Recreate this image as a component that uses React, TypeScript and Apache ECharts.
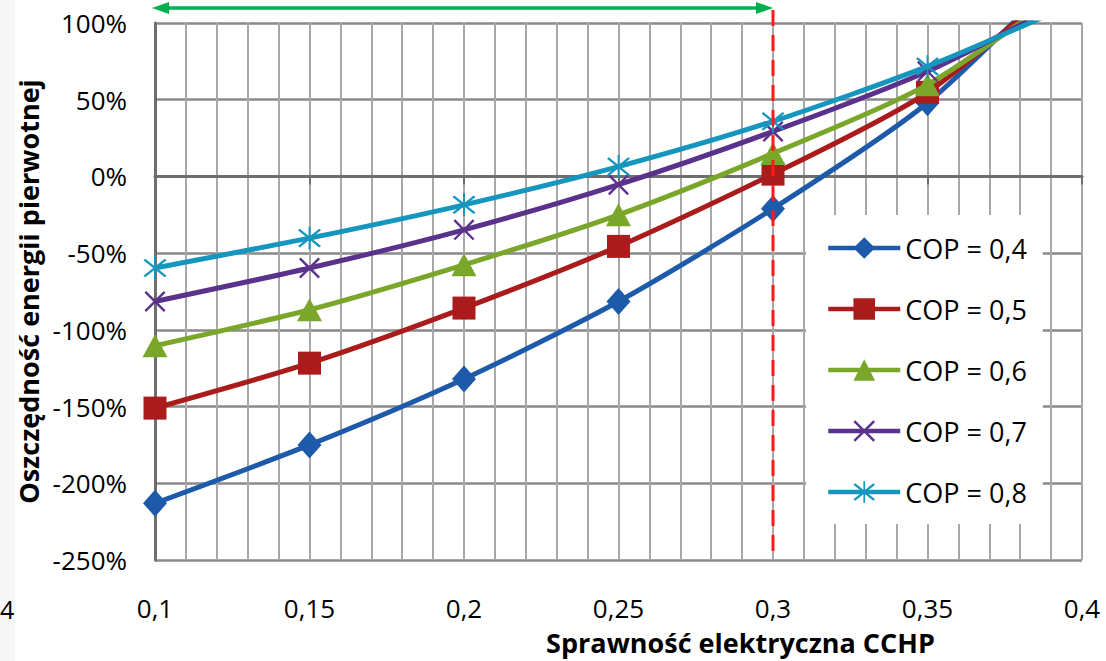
import React, { useEffect, useRef } from "react";
import * as echarts from "echarts";

// ---- data ----
const xValues = [0.1, 0.15, 0.2, 0.25, 0.3, 0.35, 0.4];
const cop04 = [-2.13, -1.75, -1.32, -0.815, -0.21, 0.48, 1.45];
const cop05 = [-1.51, -1.217, -0.858, -0.456, 0.015, 0.548, 1.38];
const cop06 = [-1.104, -0.869, -0.576, -0.25, 0.15, 0.598, 1.29];
const cop07 = [-0.815, -0.597, -0.348, -0.054, 0.293, 0.685, 1.2];
const cop08 = [-0.597, -0.402, -0.185, 0.064, 0.359, 0.717, 1.15];
const seriesNames = ["COP = 0,4", "COP = 0,5", "COP = 0,6", "COP = 0,7", "COP = 0,8"];
const xTickLabels = ["0,1", "0,15", "0,2", "0,25", "0,3", "0,35", "0,4"];
const yTickLabels = ["-250%", "-200%", "-150%", "-100%", "-50%", "0%", "50%", "100%"];
const xMin = 0.1;
const xMax = 0.4;
const xStep = 0.05;
const yMin = -2.5;
const yMax = 1;
const yStep = 0.5;
const referenceX = 0.3; // dashed marker
const rangeStart = 0.1; // arrow start
const xTitle = "Sprawność elektryczna CCHP";
const yTitle = "Oszczędność energii pierwotnej";
const croppedText = "4";

// ---- styles ----
const seriesValues = [cop04, cop05, cop06, cop07, cop08];
const seriesColors = ["#1e5aaa", "#aa1c1c", "#7aa62a", "#5a328c", "#1596be"];
const crossPath = "path://M0 8 L8 0 L100 92 L92 100 Z M92 0 L100 8 L8 100 L0 92 Z";
const starPath =
  "path://M0 8 L8 0 L100 92 L92 100 Z M92 0 L100 8 L8 100 L0 92 Z M46 -12 L54 -12 L54 112 L46 112 Z";
const seriesSymbols = ["diamond", "rect", "triangle", crossPath, starPath];
const seriesSymbolSizes: any[] = [[24, 27], 23, [25, 23], 21, 23];

const FONT = "Open Sans";

export default function App() {
  const ref = useRef<HTMLDivElement>(null);

  useEffect(() => {
    if (!ref.current) return;
    const chart = echarts.init(ref.current, null, { renderer: "svg" });

    const series: any[] = seriesNames.map((name, si) => ({
      name,
      type: "line",
      data: xValues.map((x, i) => [x, seriesValues[si][i]]),
      smooth: 0.25,
      symbol: seriesSymbols[si],
      symbolSize: seriesSymbolSizes[si],
      showAllSymbol: true,
      clip: true,
      lineStyle: { color: seriesColors[si], width: 5 },
      itemStyle: { color: seriesColors[si] },
      emphasis: { disabled: true },
      z: 3 + si,
    }));

    const xLabel = (v: number) => xTickLabels[Math.round((v - xMin) / xStep)] ?? "";
    const yLabel = (v: number) => yTickLabels[Math.round((v - yMin) / yStep)] ?? "";

    chart.setOption({
      animation: false,
      backgroundColor: "#ffffff",
      textStyle: { fontFamily: FONT },
      grid: { left: 155, top: 23, right: 24, bottom: 101, containLabel: false },
      legend: {
        orient: "vertical",
        left: 806,
        top: 215,
        backgroundColor: "#ffffff",
        padding: [18, 16, 17, 20],
        itemWidth: 72,
        itemHeight: 27,
        itemGap: 31,
        lineStyle: { width: 4.5 },
        textStyle: { fontFamily: FONT, fontSize: 27, color: "#000", lineHeight: 30 },
        data: seriesNames,
        z: 10,
      },
      xAxis: [
        {
          type: "value",
          min: xMin,
          max: xMax,
          interval: xStep,
          position: "bottom",
          axisLine: { show: false, onZero: false },
          axisTick: { show: false },
          axisLabel: {
            formatter: xLabel,
            fontFamily: FONT,
            fontSize: 26,
            color: "#000",
            margin: 35,
          },
          splitLine: { show: true, lineStyle: { color: "#a8a8a8", width: 2 } },
          minorTick: { show: false, splitNumber: 5 },
          minorSplitLine: { show: true, lineStyle: { color: "#a8a8a8", width: 2 } },
          name: xTitle,
          nameLocation: "middle",
          nameGap: 69,
          nameTextStyle: {
            fontFamily: FONT,
            fontSize: 27,
            fontWeight: "bold",
            color: "#000",
            padding: [0, 0, 0, 244],
          },
        },
        {
          type: "value",
          min: xMin,
          max: xMax,
          interval: xStep,
          position: "top",
          axisLine: { show: true, onZero: true, lineStyle: { color: "#6e6e6e", width: 3 } },
          axisTick: { show: true, inside: true, length: 8, lineStyle: { color: "#6e6e6e", width: 2 } },
          axisLabel: { show: false },
          splitLine: { show: false },
        },
      ],
      yAxis: {
        type: "value",
        min: yMin,
        max: yMax,
        interval: yStep,
        axisLine: { show: true, onZero: false, lineStyle: { color: "#6e6e6e", width: 3 } },
        axisTick: { show: false },
        axisLabel: {
          formatter: yLabel,
          fontFamily: FONT,
          fontSize: 26,
          color: "#000",
          margin: 28,
        },
        splitLine: { show: true, lineStyle: { color: "#8a8a8a", width: 2.5 } },
        name: yTitle,
        nameLocation: "middle",
        nameRotate: 90,
        nameGap: 110,
        nameTextStyle: { fontFamily: FONT, fontSize: 27, fontWeight: "bold", color: "#000" },
      },
      series,
    });

    // annotations positioned through the chart's own scales
    const [xr, yTop] = chart.convertToPixel({ gridIndex: 0 }, [referenceX, yMax]) as number[];
    const [, yBottom] = chart.convertToPixel({ gridIndex: 0 }, [referenceX, yMin]) as number[];
    const [xs] = chart.convertToPixel({ gridIndex: 0 }, [rangeStart, yMax]) as number[];
    const ay = yTop - 15;

    chart.setOption({
      graphic: [
        {
          type: "rect",
          z: -10,
          silent: true,
          shape: { x: 0, y: 0, width: 15, height: 661 },
          style: { fill: "#f7f7f7" },
        },
        {
          type: "text",
          z: 50,
          silent: true,
          x: 0,
          y: 596,
          style: { text: croppedText, fontFamily: FONT, fontSize: 25, fill: "#000" },
        },
        {
          type: "line",
          z: 50,
          silent: true,
          shape: { x1: xr, y1: yTop - 13, x2: xr, y2: yBottom },
          style: { stroke: "#ff1a1a", lineWidth: 3, lineDash: [16, 9] },
        },
        {
          type: "line",
          z: 50,
          silent: true,
          shape: { x1: xs + 8, y1: ay, x2: xr - 12, y2: ay },
          style: { stroke: "#00b050", lineWidth: 3.5 },
        },
        {
          type: "polygon",
          z: 50,
          silent: true,
          shape: { points: [[xs - 3, ay], [xs + 14, ay - 6], [xs + 14, ay + 6]] },
          style: { fill: "#00b050" },
        },
        {
          type: "polygon",
          z: 50,
          silent: true,
          shape: { points: [[xr, ay], [xr - 17, ay - 6], [xr - 17, ay + 6]] },
          style: { fill: "#00b050" },
        },
      ],
    });

    return () => {
      chart.dispose();
    };
  }, []);

  return (
    <div
      ref={ref}
      style={{ position: "fixed", left: 0, top: 0, width: 1106, height: 661, background: "#fff" }}
    />
  );
}
